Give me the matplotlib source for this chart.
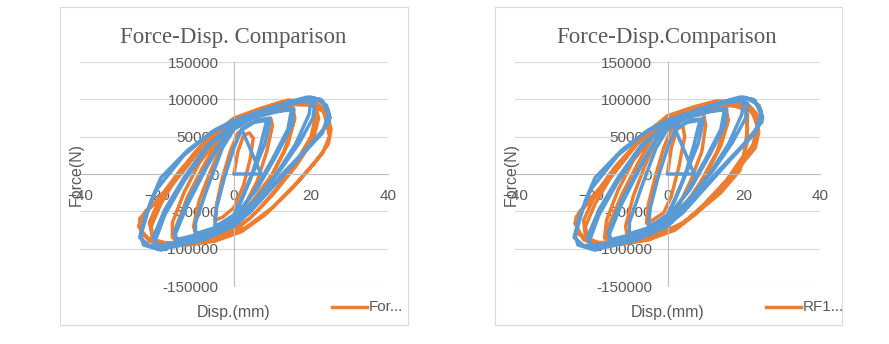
import numpy as np
import matplotlib
matplotlib.use("Agg")
import matplotlib.pyplot as plt
from matplotlib.lines import Line2D
from matplotlib.patches import Rectangle

# load paths as (displacement mm, force kN); force is scaled to N when plotted
orange_left = [
    (0, 0), (1, 30), (2.5, 52), (4, 55), (5, 48), (4.2, 20), (2.5, -15), (0, -45), (-3, -58), (-5, -62),
    (-4.5, -40), (-3, -5), (-1, 30), (1, 55), (3, 62),
    (6, 72), (9.5, 75), (10, 65), (8.5, 30), (6, -10), (3, -40), (0, -62), (-5, -75), (-10, -80),
    (-10.5, -70), (-9, -35), (-6, 5), (-3, 40), (0, 62), (3, 72),
    (8, 85), (12, 90), (15.5, 88), (15.5, 70), (13, 30), (9, -10), (5, -40), (0, -68), (-6, -85),
    (-12, -90), (-15.5, -88), (-15, -70), (-12, -30), (-8, 10), (-4, 45), (0, 66), (5, 80),
    (10, 87), (15, 88), (15.8, 75), (14, 40), (10, 0), (5, -35), (0, -63), (-7, -82), (-13, -88),
    (-16, -85), (-16, -65), (-13, -25), (-9, 15), (-4, 48), (0, 66), (5, 80),
    (10, 90), (15, 96), (20, 94), (21.5, 85), (20, 50), (16, 15), (11, -20), (6, -50), (1, -73),
    (-5, -88), (-12, -94), (-18, -95), (-21, -90), (-21.5, -70), (-19, -40), (-15, -5), (-10, 30),
    (-5, 55), (0, 72), (6, 85),
    (12, 92), (17, 95), (21, 92), (22, 75), (20.5, 45), (16, 10), (10, -28), (4, -60), (-3, -82),
    (-10, -92), (-17, -93), (-21, -88), (-22, -65), (-19, -30), (-14, 5), (-8, 40), (0, 72), (6, 85),
    (12, 96), (17, 99), (21, 96), (24, 85), (25.2, 60), (24.5, 40), (21, 15), (15, -20), (8, -55),
    (2, -77), (-5, -90), (-12, -95), (-18, -95), (-22, -90), (-24.8, -70), (-23, -50), (-18.5, -30),
    (-13, 5), (-7, 45), (0, 75), (7, 88), (14, 99), (20, 97), (23, 88), (24, 70),
    (24.8, 50), (23, 28), (17, -8), (10, -45), (3, -72), (-5, -85), (-13, -92), (-20, -93),
    (-24, -80), (-24.5, -60), (-20, -35), (-14, 0), (-8, 38), (0, 70), (8, 85), (15, 93), (21, 92),
    (24, 80),
]

blue_path = [
    (0, 0), (7, 0), (2, 60), (5, 69), (8.5, 72), (7, 40), (5, 5), (2, -35), (0, -55), (-3, -65),
    (-5, -70), (-4.5, -45), (-2.5, -5), (0, 35), (2, 60),
    (6, 72), (9.5, 74), (8, 40), (4, -10), (0, -55), (-5, -72), (-10, -80), (-10, -65), (-7, -20),
    (-3, 35), (0, 60), (5, 75),
    (10, 82), (15, 88), (14, 60), (10, 20), (5, -25), (0, -60), (-7, -82), (-15, -92), (-15.2, -80),
    (-12, -40), (-7, 10), (-3, 45), (0, 65), (7, 80),
    (11, 84), (15.5, 86), (15, 65), (11, 25), (6, -20), (0, -58), (-7, -78), (-15, -88),
    (-15.5, -78), (-12, -35), (-7, 12), (-3, 47), (0, 66), (7, 80),
    (13, 92), (18, 100), (20, 98), (19.5, 80), (16, 40), (11, 0), (6, -35), (0, -65), (-8, -88),
    (-15, -97), (-20, -100), (-20.5, -90), (-18, -55), (-13, -10), (-7, 35), (0, 68), (8, 86),
    (13, 93), (19, 98), (21, 95), (20.5, 75), (17, 42), (12, 5), (6, -32), (0, -62), (-8, -84),
    (-15, -93), (-20, -96), (-21, -85), (-18, -48), (-13, -5), (-7, 38), (0, 68), (8, 86),
    (14, 96), (19, 103), (22.5, 100), (24.5, 85), (24.8, 70), (20, 40), (12, -3), (5, -45), (0, -70),
    (-8, -88), (-16, -97), (-19, -102), (-23.5, -95), (-24.2, -82), (-21.5, -35), (-19, -5),
    (-12, 32), (-5, 59), (0, 72), (8, 86), (15, 97), (20, 103), (23, 98), (24.5, 80),
    (23, 55), (17, 22), (10, -18), (4, -52), (0, -68), (-8, -85), (-16, -94), (-22, -96),
    (-24.5, -85), (-23, -55), (-20, -20), (-13, 25), (-6, 55), (0, 70), (8, 84), (16, 96),
    (21, 101), (24, 92), (25, 75),
]

orange_right = [
    (0, 0), (1, 35), (2.5, 60), (4, 65), (4.5, 50), (3, 10), (1, -30), (-1, -52), (-4, -62),
    (-5.5, -66), (-5, -40), (-3, 0), (-1, 35), (1, 60), (3, 70),
    (6, 78), (9.5, 80), (10, 65), (9, 30), (6, -10), (3, -42), (0, -64), (-5, -78), (-10.5, -84),
    (-11, -70), (-9, -30), (-6, 10), (-3, 45), (0, 68), (4, 78),
    (9, 88), (13, 93), (15.5, 90), (15.5, 70), (13, 30), (9, -8), (5, -42), (0, -70), (-6, -86),
    (-12, -92), (-16, -90), (-15.5, -70), (-12, -28), (-8, 12), (-4, 48), (0, 70), (5, 82),
    (10, 89), (15, 90), (16, 72), (14, 38), (10, -2), (5, -38), (0, -66), (-7, -84), (-13, -90),
    (-16.5, -86), (-16, -62), (-13, -22), (-9, 18), (-4, 50), (0, 70), (5, 82),
    (10, 92), (15, 96), (20, 92), (21, 80), (20.8, 40), (19, 5), (14, -25), (7, -55), (1, -75),
    (-5, -88), (-12, -93), (-18, -94), (-21, -90), (-21.5, -70), (-19, -40), (-15, -5), (-10, 30),
    (-5, 58), (0, 76), (6, 87),
    (12, 93), (17, 92), (20.5, 86), (21, 60), (20, 25), (15, -12), (9, -45), (3, -70), (-4, -84),
    (-11, -92), (-18, -92), (-21.5, -85), (-22, -62), (-19, -28), (-14, 8), (-8, 42), (0, 74), (6, 87),
    (12, 96), (17, 98), (21, 94), (23.5, 80), (23.9, 55), (23, 35), (19, 10), (13, -22), (7, -55),
    (2, -75), (-5, -88), (-12, -94), (-18, -94), (-22, -88), (-24.3, -66), (-23, -50), (-18.5, -28),
    (-13, 8), (-7, 48), (0, 78), (7, 90), (13, 98), (19, 95), (22, 86),
    (23.5, 65), (22.5, 40), (18, 5), (11, -35), (4, -66), (-4, -83), (-12, -91), (-19, -92),
    (-23.5, -80), (-24, -58), (-20, -32), (-14, 2), (-8, 40), (0, 72), (8, 86), (15, 92), (20.5, 90),
    (23, 78),
]

y_ticks = [-150000, -100000, -50000, 0, 50000, 100000, 150000]
x_ticks = [-40, -20, 0, 20, 40]

ORANGE = "#ED7D31"
BLUE = "#5B9BD5"
GRAY_TXT = "#595959"

W, H = 889, 344
fig = plt.figure(figsize=(W / 100, H / 100), dpi=100)


def fx(px):
    return px / W


def fy(py):
    return 1 - py / H


def panel(box, plot, title, legend_text, orange_path):
    # chart border
    bx0, by0, bx1, by1 = box
    fig.add_artist(Rectangle((fx(bx0), fy(by1)), fx(bx1 - bx0), (by1 - by0) / H,
                             transform=fig.transFigure, fill=False,
                             edgecolor="#D9D9D9", lw=0.8))
    px0, py0, px1, py1 = plot
    ax = fig.add_axes([fx(px0), fy(py1), fx(px1 - px0), (py1 - py0) / H])
    ax.set_xlim(-40, 40)
    ax.set_ylim(-150000, 150000)
    for v in y_ticks:
        ax.axhline(v, color="#D9D9D9", lw=0.8, zorder=0)
    # axes cross at the origin, labels sit next to them
    ax.spines["left"].set_position(("data", 0))
    ax.spines["bottom"].set_position(("data", 0))
    ax.spines["top"].set_visible(False)
    ax.spines["right"].set_visible(False)
    for s in ("left", "bottom"):
        ax.spines[s].set_color("#BFBFBF")
        ax.spines[s].set_linewidth(0.8)
    ax.set_xticks(x_ticks)
    ax.set_yticks(y_ticks)
    ax.set_yticklabels([str(v) for v in y_ticks])
    ax.tick_params(axis="both", length=0, labelsize=11, labelcolor=GRAY_TXT,
                   labelfontfamily="Liberation Sans", pad=11)
    ax.patch.set_alpha(0)

    o = np.array(orange_path, dtype=float)
    b = np.array(blue_path, dtype=float)
    ax.plot(o[:, 0], o[:, 1] * 1000, color=ORANGE, lw=2.5,
            solid_joinstyle="round", solid_capstyle="round", zorder=2)
    ax.plot(b[:, 0], b[:, 1] * 1000, color=BLUE, lw=2.5,
            solid_joinstyle="round", solid_capstyle="round", zorder=3)

    cx = (px0 + px1) / 2
    fig.text(fx(cx - 1), fy(38), title, ha="center", va="center",
             family="Liberation Serif", fontsize=16.5, color=GRAY_TXT)
    fig.text(fx(px0 - 4), fy(175), "Force(N)", rotation=90, ha="center",
             va="center", family="Liberation Sans", fontsize=11.5,
             color=GRAY_TXT, zorder=5)
    fig.text(fx(cx), fy(313), "Disp.(mm)", ha="center", va="center",
             family="Liberation Sans", fontsize=11.5, color=GRAY_TXT)
    # truncated legend entry
    lx = bx1 - 76
    fig.add_artist(Line2D([fx(lx), fx(lx + 35)], [fy(307), fy(307)],
                          transform=fig.transFigure, color=ORANGE, lw=2.5))
    fig.text(fx(lx + 37), fy(307), legend_text, ha="left", va="center",
             family="Liberation Sans", fontsize=11, color=GRAY_TXT)
    return ax


panel((60, 7, 408, 325), (80, 62, 388, 286), "Force-Disp. Comparison", "For...",
      orange_left)
panel((495, 7, 842, 325), (515, 62, 820, 286), "Force-Disp.Comparison", "RF1...",
      orange_right)

fig.savefig("out.png", dpi=100)
